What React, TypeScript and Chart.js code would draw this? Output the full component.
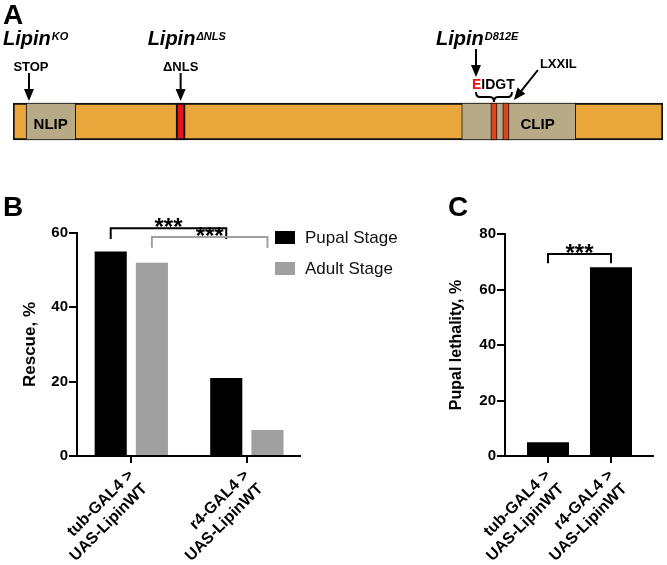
import { useEffect, useRef } from "react";
import { Chart, registerables } from "chart.js";

Chart.register(...registerables);

const FONT = "Arial, 'Liberation Sans', Helvetica, sans-serif";

// ---------- Panel A: Lipin protein domain map (residue coordinates) ----------
const proteinLength = 1140;
const segmentNames = ["Lipin", "NLIP", "NLS", "CLIP", "EIDGT", "LXXIL"];
const segmentStarts = [0, 23, 286, 787, 838, 859];
const segmentEnds = [1140, 110, 302, 987, 849, 870];
const segmentColors = ["#E9A73B", "#B8AA87", "#E3161B", "#B8AA87", "#D9481A", "#D9481A"];
const segmentBorders = [2, 1, 2, 1, 1, 1];
const segmentOrder = [3, 2, 2, 2, 1, 1];
const stopSite = 28;
const nlsSite = 294;
const d812Site = 812;
const lxxilSite = 868;
const clipLabelSite = 920;
const nlipLabelSite = 66;

// ---------- Panel B: rescue ----------
const genotypes = [
  ["tub-GAL4 >", "UAS-LipinWT"],
  ["r4-GAL4 >", "UAS-LipinWT"],
];
const seriesNames = ["Pupal Stage", "Adult Stage"];
const pupalRescue = [55, 21];
const adultRescue = [52, 7];
const rescueTicks = [0, 20, 40, 60];

// ---------- Panel C: pupal lethality ----------
const pupalLethality = [5, 68];
const lethalityTicks = [0, 20, 40, 60, 80];

// significance brackets (value units)
const rescueBrackets = [
  { dataset: 0, top: 61.3, leg: 58.4, color: "#000000", label: "***" },
  { dataset: 1, top: 58.9, leg: 56.0, color: "#A0A0A0", label: "***" },
];
const lethalityBracket = { dataset: 0, top: 72.8, leg: 69.5, color: "#000000", label: "***" };

function drawArrow(ctx: CanvasRenderingContext2D, x1: number, y1: number, x2: number, y2: number) {
  const head = 12;
  const w = 10;
  const ang = Math.atan2(y2 - y1, x2 - x1);
  const c = Math.cos(ang);
  const s = Math.sin(ang);
  ctx.save();
  ctx.strokeStyle = "#000";
  ctx.fillStyle = "#000";
  ctx.lineWidth = 2;
  ctx.beginPath();
  ctx.moveTo(x1, y1);
  ctx.lineTo(x2 - c * head * 0.8, y2 - s * head * 0.8);
  ctx.stroke();
  ctx.beginPath();
  ctx.moveTo(x2, y2);
  ctx.lineTo(x2 - head * c + (w / 2) * s, y2 - head * s - (w / 2) * c);
  ctx.lineTo(x2 - head * c - (w / 2) * s, y2 - head * s + (w / 2) * c);
  ctx.closePath();
  ctx.fill();
  ctx.restore();
}

function drawLipinLabel(ctx: CanvasRenderingContext2D, x: number, sup: string) {
  ctx.save();
  ctx.fillStyle = "#000";
  ctx.textBaseline = "alphabetic";
  ctx.textAlign = "left";
  ctx.font = `italic bold 20px ${FONT}`;
  ctx.fillText("Lipin", x, 45);
  const w = ctx.measureText("Lipin").width;
  ctx.font = `italic bold 11px ${FONT}`;
  ctx.fillText(sup, x + w + 1, 40);
  ctx.restore();
}

const domainPlugin = {
  id: "domainAnnotations",
  afterDraw(chart: any) {
    const ctx: CanvasRenderingContext2D = chart.ctx;
    const xs = chart.scales.x;
    const px = (v: number) => xs.getPixelForValue(v);
    const barTop = chart.chartArea.top + 3;
    ctx.save();
    ctx.fillStyle = "#000";
    ctx.font = `bold 28px ${FONT}`;
    ctx.textAlign = "left";
    ctx.textBaseline = "alphabetic";
    ctx.fillText("A", 3, 24);

    drawLipinLabel(ctx, px(stopSite) - 26, "KO");
    drawLipinLabel(ctx, px(nlsSite) - 33, "\u0394NLS");
    drawLipinLabel(ctx, px(d812Site) - 40, "D812E");

    ctx.font = `bold 13px ${FONT}`;
    ctx.textAlign = "center";
    ctx.fillText("STOP", px(stopSite) + 2, 71);
    ctx.fillText("\u0394NLS", px(nlsSite), 71);
    ctx.textAlign = "left";
    ctx.fillText("LXXIL", px(lxxilSite) + 32, 68);
    ctx.font = `bold 14px ${FONT}`;
    const ex = px(d812Site) - 4;
    ctx.fillStyle = "#E8141B";
    ctx.fillText("E", ex, 89);
    const ew = ctx.measureText("E").width;
    ctx.fillStyle = "#000";
    ctx.fillText("IDGT", ex + ew, 89);

    ctx.font = `bold 15px ${FONT}`;
    ctx.textAlign = "center";
    ctx.fillText("NLIP", px(nlipLabelSite), 129);
    ctx.fillText("CLIP", px(clipLabelSite), 129);

    drawArrow(ctx, px(stopSite), 73, px(stopSite), barTop - 2);
    drawArrow(ctx, px(nlsSite), 73, px(nlsSite), barTop - 2);
    drawArrow(ctx, px(d812Site), 49, px(d812Site), 77);
    drawArrow(ctx, px(lxxilSite) + 30, 70, px(lxxilSite) + 6, barTop - 3);

    const x1 = px(d812Site);
    const x2 = px(lxxilSite) + 4;
    const xm = (x1 + x2) / 2;
    const yt = 92, ymid = 97, yb = 102, r = 4;
    ctx.strokeStyle = "#000";
    ctx.lineWidth = 2;
    ctx.beginPath();
    ctx.moveTo(x1, yt);
    ctx.quadraticCurveTo(x1, ymid, x1 + r, ymid);
    ctx.lineTo(xm - r, ymid);
    ctx.quadraticCurveTo(xm, ymid, xm, yb);
    ctx.quadraticCurveTo(xm, ymid, xm + r, ymid);
    ctx.lineTo(x2 - r, ymid);
    ctx.quadraticCurveTo(x2, ymid, x2, yt);
    ctx.stroke();
    ctx.restore();
  },
};

function drawBracket(chart: any, b: any) {
  const ctx: CanvasRenderingContext2D = chart.ctx;
  const ys = chart.scales.y;
  const meta = chart.getDatasetMeta(b.dataset);
  const xa = meta.data[0].x;
  const xb = meta.data[1].x;
  const yTop = ys.getPixelForValue(b.top);
  const yLeg = ys.getPixelForValue(b.leg);
  ctx.save();
  ctx.strokeStyle = b.color;
  ctx.lineWidth = 2;
  ctx.beginPath();
  ctx.moveTo(xa, yLeg);
  ctx.lineTo(xa, yTop);
  ctx.lineTo(xb, yTop);
  ctx.lineTo(xb, yLeg);
  ctx.stroke();
  ctx.fillStyle = "#000";
  ctx.font = `bold 24px ${FONT}`;
  ctx.textAlign = "center";
  ctx.textBaseline = "alphabetic";
  ctx.fillText(b.label, (xa + xb) / 2, yTop + 7);
  ctx.restore();
}

const rescuePlugin = {
  id: "rescueExtras",
  afterDraw(chart: any) {
    const ctx: CanvasRenderingContext2D = chart.ctx;
    ctx.save();
    ctx.fillStyle = "#000";
    ctx.font = `bold 28px ${FONT}`;
    ctx.textAlign = "left";
    ctx.textBaseline = "alphabetic";
    ctx.fillText("B", 3, 26);
    ctx.restore();
    rescueBrackets.forEach((b) => drawBracket(chart, b));
    const { right, top } = chart.chartArea;
    ctx.save();
    chart.data.datasets.forEach((d: any, i: number) => {
      const bx = right - 25;
      const by = top - 2 + i * 31;
      ctx.fillStyle = d.backgroundColor;
      ctx.fillRect(bx, by, 20, 13);
      ctx.fillStyle = "#111";
      ctx.font = `17px ${FONT}`;
      ctx.textAlign = "left";
      ctx.textBaseline = "middle";
      ctx.fillText(d.label, bx + 30, by + 7);
    });
    ctx.restore();
  },
};

const lethalityPlugin = {
  id: "lethalityExtras",
  afterDraw(chart: any) {
    const ctx: CanvasRenderingContext2D = chart.ctx;
    ctx.save();
    ctx.fillStyle = "#000";
    ctx.font = `bold 28px ${FONT}`;
    ctx.textAlign = "left";
    ctx.textBaseline = "alphabetic";
    ctx.fillText("C", 28, 26);
    ctx.restore();
    drawBracket(chart, lethalityBracket);
  },
};

function axisY(max: number, ticks: number[], title: string, width: number, titlePad: number, titleSize: number) {
  return {
    min: 0,
    max,
    afterBuildTicks: (s: any) => {
      s.ticks = ticks.map((v) => ({ value: v }));
    },
    afterFit: (s: any) => {
      s.width = width;
    },
    border: { display: true, color: "#000", width: 2 },
    grid: { drawOnChartArea: false, drawTicks: true, tickLength: 8, color: "#000", lineWidth: 2 },
    ticks: { color: "#000", font: { family: FONT, size: 15, weight: "bold" }, padding: 1 },
    title: {
      display: true,
      text: title,
      color: "#000",
      font: { family: FONT, size: titleSize, weight: "bold" },
      padding: { top: titlePad, bottom: 0 },
    },
  };
}

function axisX(min: number, max: number, height: number) {
  return {
    type: "linear",
    min,
    max,
    offset: false,
    afterBuildTicks: (s: any) => {
      s.ticks = genotypes.map((_, i) => ({ value: i }));
    },
    afterFit: (s: any) => {
      s.height = height;
    },
    border: { display: true, color: "#000", width: 2 },
    grid: { offset: false, drawOnChartArea: false, drawTicks: true, tickLength: 7, color: "#000", lineWidth: 2 },
    ticks: {
      color: "#000",
      font: { family: FONT, size: 16, weight: "bold" },
      minRotation: 45,
      maxRotation: 45,
      padding: 3,
      autoSkip: false,
      callback: (_v: any, i: number) => genotypes[i],
    },
  };
}

export default function App() {
  const aRef = useRef<HTMLCanvasElement>(null);
  const bRef = useRef<HTMLCanvasElement>(null);
  const cRef = useRef<HTMLCanvasElement>(null);

  useEffect(() => {
    document.body.style.margin = "0";
    const charts: Chart[] = [];

    charts.push(
      new Chart(aRef.current!, {
        type: "bar",
        data: {
          labels: ["Lipin"],
          datasets: segmentNames.map((name, i) => ({
            label: name,
            data: [[segmentStarts[i], segmentEnds[i]]],
            backgroundColor: segmentColors[i],
            borderColor: "#111",
            borderWidth: segmentBorders[i],
            borderSkipped: false,
            grouped: false,
            barThickness: 37,
            order: segmentOrder[i],
          })) as any,
        },
        options: {
          indexAxis: "y",
          responsive: false,
          animation: false,
          events: [],
          layout: { padding: { left: 13, right: 4, top: 100, bottom: 47 } },
          plugins: { legend: { display: false }, tooltip: { enabled: false } },
          scales: {
            x: { type: "linear", min: 0, max: proteinLength, display: false },
            y: { display: false },
          },
        } as any,
        plugins: [domainPlugin],
      })
    );

    charts.push(
      new Chart(bRef.current!, {
        type: "bar",
        data: {
          datasets: [
            {
              label: seriesNames[0],
              data: pupalRescue.map((y, i) => ({ x: i, y })),
              backgroundColor: "#000000",
              categoryPercentage: 0.713,
              barPercentage: 0.78,
            },
            {
              label: seriesNames[1],
              data: adultRescue.map((y, i) => ({ x: i, y })),
              backgroundColor: "#A0A0A0",
              categoryPercentage: 0.713,
              barPercentage: 0.78,
            },
          ],
        },
        options: {
          responsive: false,
          animation: false,
          events: [],
          layout: { padding: { left: 0, right: 120, top: 43, bottom: 0 } },
          plugins: { legend: { display: false }, tooltip: { enabled: false } },
          scales: {
            x: axisX(-0.47, 1.46, 109),
            y: axisY(60, rescueTicks, "Rescue, %", 77, 20, 17),
          },
        } as any,
        plugins: [rescuePlugin],
      })
    );

    charts.push(
      new Chart(cRef.current!, {
        type: "bar",
        data: {
          datasets: [
            {
              label: "Pupal lethality",
              data: pupalLethality.map((y, i) => ({ x: i, y })),
              backgroundColor: "#000000",
              categoryPercentage: 1,
              barPercentage: 0.667,
            },
          ],
        },
        options: {
          responsive: false,
          animation: false,
          events: [],
          layout: { padding: { left: 0, right: 14, top: 44, bottom: 0 } },
          plugins: { legend: { display: false }, tooltip: { enabled: false } },
          scales: {
            x: axisX(-0.683, 1.667, 109),
            y: axisY(80, lethalityTicks, "Pupal lethality, %", 85, 27, 16),
          },
        } as any,
        plugins: [lethalityPlugin],
      })
    );

    return () => charts.forEach((c) => c.destroy());
  }, []);

  return (
    <div style={{ position: "absolute", left: 0, top: 0, width: 667, height: 565, background: "#fff" }}>
      <canvas ref={aRef} width={667} height={190} style={{ position: "absolute", left: 0, top: 0 }} />
      <canvas ref={bRef} width={420} height={375} style={{ position: "absolute", left: 0, top: 190 }} />
      <canvas ref={cRef} width={247} height={375} style={{ position: "absolute", left: 420, top: 190 }} />
    </div>
  );
}
